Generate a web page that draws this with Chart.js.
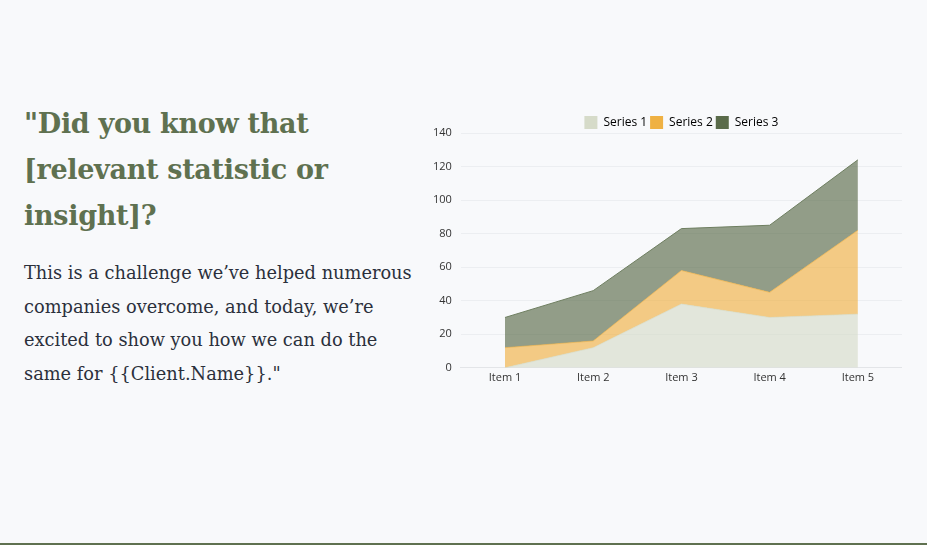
<!DOCTYPE html>
<html lang="en">
<head>
    <meta charset="UTF-8" />
    <title>Did you know</title>
    <script src="https://cdn.jsdelivr.net/npm/chart.js"></script>
    <style>
        html, body {
            margin: 0;
            padding: 0;
        }

        body {
            width: 927px;
            height: 545px;
            background: #f8f9fb;
            position: relative;
            overflow: hidden;
            font-family: "DejaVu Serif", serif;
        }

        h1 {
            position: absolute;
            left: 24px;
            top: 101px;
            margin: 0;
            font-size: 27px;
            line-height: 46px;
            font-weight: bold;
            color: #5f7150;
            letter-spacing: -0.3px;
        }

        p {
            position: absolute;
            left: 24px;
            top: 256px;
            margin: 0;
            font-size: 17.8px;
            line-height: 33.5px;
            color: #2b303b;
        }

        #chartBox {
            position: absolute;
            left: 424px;
            top: 113px;
            width: 478px;
            height: 274px;
        }

        #bottomLine {
            position: absolute;
            left: 0;
            right: 0;
            bottom: 0;
            height: 2px;
            background: #5f7150;
        }
    </style>
</head>
<body>

    <h1>"Did you know that<br>[relevant statistic or<br>insight]?</h1>
    <p>This is a challenge we’ve helped numerous<br>companies overcome, and today, we’re<br>excited to show you how we can do the<br>same for {{Client.Name}}."</p>

    <div id="chartBox"><canvas id="areaChart"></canvas></div>
    <div id="bottomLine"></div>

    <script>
        const categories = ['Item 1', 'Item 2', 'Item 3', 'Item 4', 'Item 5'];
        const series1 = [0, 12, 38, 30, 32];
        const series2 = [12, 4, 20, 15, 50];
        const series3 = [18, 30, 25, 40, 42];
        const seriesNames = ['Series 1', 'Series 2', 'Series 3'];
        const solidColors = ['#d6dbc9', '#efb143', '#5a6b4a'];
        const fillColors = ['rgba(214,219,201,0.65)', 'rgba(239,177,67,0.65)', 'rgba(90,107,74,0.65)'];
        const lineColors = ['rgba(214,219,201,0.65)', 'rgba(239,177,67,0.65)', '#6e7e60'];

        const values = [series1, series2, series3];
        const ctx = document.getElementById('areaChart').getContext('2d');

        // legend sits closer to the plot than chart.js allows by default
        const tightLegend = {
            id: 'tightLegend',
            beforeInit(chart) {
                const fit = chart.legend.fit;
                chart.legend.fit = function () {
                    fit.call(this);
                    this.height -= 6;
                };
            }
        };

        new Chart(ctx, {
            type: 'line',
            data: {
                labels: categories,
                datasets: values.map((v, i) => ({
                    label: seriesNames[i],
                    data: v,
                    fill: i === 0 ? 'origin' : '-1',
                    backgroundColor: fillColors[i],
                    borderColor: lineColors[i],
                    borderWidth: 1,
                    pointRadius: 0,
                    tension: 0
                }))
            },
            plugins: [tightLegend],
            options: {
                responsive: true,
                maintainAspectRatio: false,
                animation: false,
                layout: { padding: 0 },
                plugins: {
                    tooltip: { enabled: false },
                    legend: {
                        position: 'top',
                        fullSize: false,
                        labels: {
                            boxWidth: 13,
                            boxHeight: 13,
                            padding: 3,
                            color: '#333',
                            font: { family: 'Open Sans', size: 12 },
                            generateLabels: chart => chart.data.datasets.map((d, i) => ({
                                text: d.label,
                                fillStyle: solidColors[i],
                                strokeStyle: solidColors[i],
                                lineWidth: 0,
                                datasetIndex: i
                            }))
                        }
                    }
                },
                scales: {
                    x: {
                        offset: true,
                        grid: { display: false, drawTicks: false },
                        border: { color: '#e3e5e8' },
                        ticks: { color: '#333', font: { family: 'Open Sans', size: 11 }, padding: 3 }
                    },
                    y: {
                        stacked: true,
                        min: 0,
                        max: 140,
                        grid: { color: '#eceef1', drawTicks: false },
                        border: { display: false },
                        ticks: { stepSize: 20, color: '#333', font: { family: 'Open Sans', size: 11 }, padding: 9 }
                    }
                }
            }
        });
    </script>

</body>
</html>
